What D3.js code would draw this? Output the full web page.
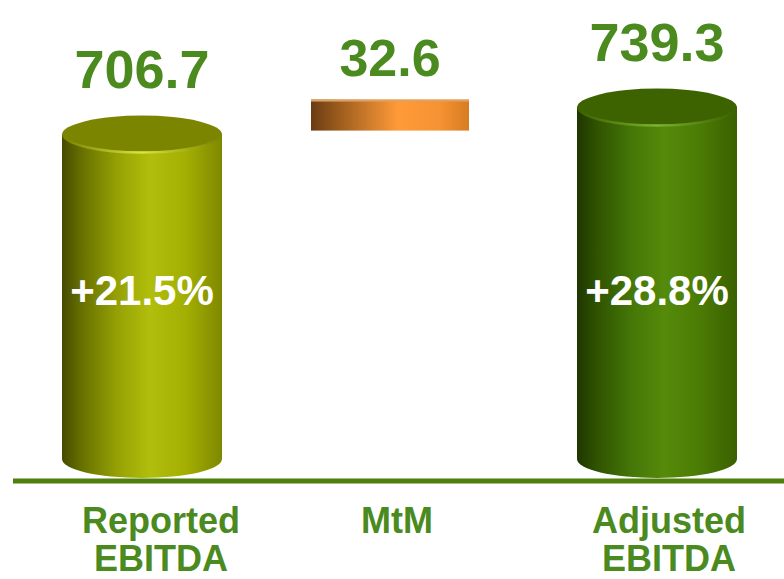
<!DOCTYPE html>
<html>
<head>
<meta charset="utf-8">
<script src="https://cdn.jsdelivr.net/npm/d3@7"></script>
<style>
  body { margin: 0; background: #fff; }
  svg { display: block; }
  text { font-family: 'Liberation Sans', Arial, sans-serif; font-weight: bold; }
</style>
</head>
<body>
<svg id="chart" width="784" height="579"></svg>
<script>
// chart data
var categories = ['Reported EBITDA', 'MtM', 'Adjusted EBITDA']
var values = [706.7, 32.6, 739.3]
var kinds = ['total', 'delta', 'total']
var valueLabels = ['706.7', '32.6', '739.3']
var growthLabels = ['+21.5%', '', '+28.8%']
var axisLines = [['Reported', 'EBITDA'], ['MtM'], ['Adjusted', 'EBITDA']]

// build waterfall start / end values
var running = 0
var bars = categories.map(function(c, i) {
  var start, end
  if (kinds[i] == 'total') {
    start = null
    end = values[i]
    running = values[i]
  } else {
    start = running
    end = running + values[i]
    running = end
  }
  return { key: c, start: start, end: end, i: i }
})

var svg = d3.select('#chart')
var defs = svg.append('defs')

// gradients for the cylinders and the mtm slab
function hGrad(id, stops) {
  var g = defs.append('linearGradient').attr('id', id)
    .attr('x1', '0%').attr('x2', '100%').attr('y1', '0%').attr('y2', '0%')
  stops.forEach(function(s) {
    g.append('stop').attr('offset', s[0]).attr('stop-color', s[1])
  })
}
hGrad('body0', [['0%', '#454a00'], ['12%', '#667000'], ['35%', '#96a204'], ['55%', '#b2be0c'], ['78%', '#a2ae02'], ['100%', '#7e8800']])
hGrad('body2', [['0%', '#1e3600'], ['12%', '#2f5200'], ['35%', '#457808'], ['55%', '#558a0a'], ['78%', '#4a7a04'], ['100%', '#3a6000']])
hGrad('slab', [['0%', '#6a3c14'], ['20%', '#a2601f'], ['55%', '#ff9a38'], ['82%', '#f59232'], ['100%', '#d67c22']])
hGrad('rim0', [['0%', 'rgba(220,230,60,0)'], ['50%', 'rgba(225,235,70,0.95)'], ['100%', 'rgba(220,230,60,0)']])
hGrad('rim2', [['0%', 'rgba(120,170,40,0)'], ['50%', 'rgba(130,185,50,0.95)'], ['100%', 'rgba(120,170,40,0)']])

var topColor = ['#7b8500', null, '#3d6300']

var baseY = 481
var ry = 19
var barWidth = 160

var x = d3.scaleOrdinal().domain(categories).range([142, 390, 657])
var labelX = d3.scaleOrdinal().domain(categories).range([161, 397, 669])

// axis is broken: the bottom of the cylinders sits at 315
var y = d3.scaleLinear().domain([315, 740]).range([baseY - 3 - ry, 107])

var chart = svg.append('g')

bars.forEach(function(b) {
  var cx = x(b.key)
  var g = chart.append('g')
  if (kinds[b.i] == 'total') {
    var yTop = y(b.end)
    var yBot = y(315)
    var rx = barWidth / 2
    // body with rounded bottom
    g.append('path')
      .attr('d', 'M' + (cx - rx) + ',' + yTop +
        'L' + (cx - rx) + ',' + yBot +
        'A' + rx + ',' + ry + ' 0 0 0 ' + (cx + rx) + ',' + yBot +
        'L' + (cx + rx) + ',' + yTop + 'Z')
      .attr('fill', 'url(#body' + b.i + ')')
    // top
    g.append('ellipse')
      .attr('cx', cx).attr('cy', yTop)
      .attr('rx', rx).attr('ry', ry)
      .attr('fill', topColor[b.i])
    // front rim highlight
    g.append('path')
      .attr('d', 'M' + (cx - rx + 2) + ',' + yTop +
        'A' + (rx - 2) + ',' + (ry - 1) + ' 0 0 0 ' + (cx + rx - 2) + ',' + yTop)
      .attr('fill', 'none')
      .attr('stroke', 'url(#rim' + b.i + ')')
      .attr('stroke-width', 2.5)
    // value label
    g.append('text')
      .attr('x', cx).attr('y', yTop - 47)
      .attr('text-anchor', 'middle')
      .attr('font-size', 54)
      .attr('fill', '#4b8a1e')
      .text(valueLabels[b.i])
    // growth label
    g.append('text')
      .attr('x', cx).attr('y', 305)
      .attr('text-anchor', 'middle')
      .attr('font-size', 42)
      .attr('fill', '#fff')
      .text(growthLabels[b.i])
  } else {
    var y0 = y(b.end) - 8
    var h = y(b.start) - y(b.end) + 4
    g.append('rect')
      .attr('x', cx - barWidth / 2 + 1).attr('y', y0)
      .attr('width', barWidth - 2).attr('height', h)
      .attr('fill', 'url(#slab)')
    g.append('rect')
      .attr('x', cx - barWidth / 2 + 1).attr('y', y0)
      .attr('width', barWidth - 2).attr('height', 2)
      .attr('fill', '#e0a060')
    g.append('text')
      .attr('x', cx).attr('y', y0 - 24)
      .attr('text-anchor', 'middle')
      .attr('font-size', 52)
      .attr('fill', '#4b8a1e')
      .text(valueLabels[b.i])
  }
})

// base line
svg.append('line')
  .attr('x1', 13).attr('x2', 784)
  .attr('y1', baseY).attr('y2', baseY)
  .attr('stroke', '#4f7f0c')
  .attr('stroke-width', 5)

// category labels
categories.forEach(function(c, i) {
  var t = svg.append('text')
    .attr('text-anchor', 'middle')
    .attr('font-size', 36)
    .attr('fill', '#4b8a1e')
  axisLines[i].forEach(function(line, j) {
    t.append('tspan')
      .attr('x', labelX(c))
      .attr('y', 533 + j * 38)
      .text(line)
  })
})
</script>
</body>
</html>
